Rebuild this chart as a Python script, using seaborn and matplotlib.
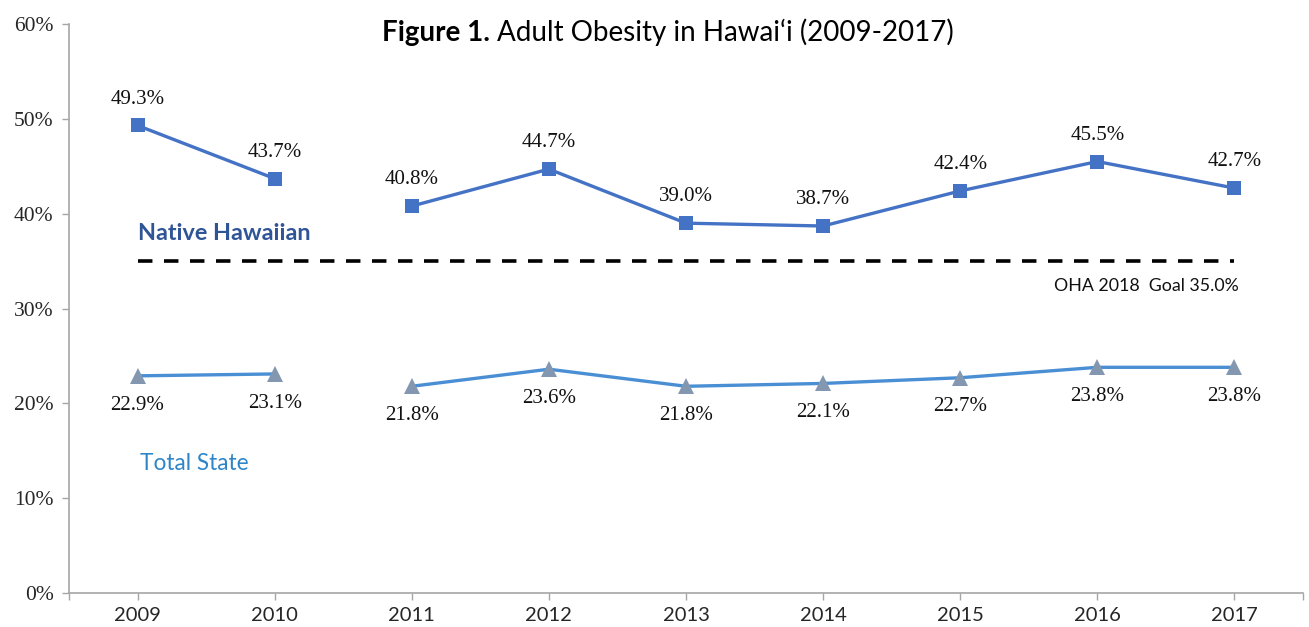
import matplotlib
matplotlib.use("Agg")
import matplotlib.pyplot as plt
import seaborn as sns
import pandas as pd
import numpy as np

years = ["2009", "2010", "2011", "2012", "2013", "2014", "2015", "2016", "2017"]
native_hawaiian = [49.3, 43.7, 40.8, 44.7, 39.0, 38.7, 42.4, 45.5, 42.7]
total_state = [22.9, 23.1, 21.8, 23.6, 21.8, 22.1, 22.7, 23.8, 23.8]
segment = [0, 0, 1, 1, 1, 1, 1, 1, 1]
goal = 35.0
y_ticks = [0, 10, 20, 30, 40, 50, 60]

sns.set_theme(style="white")
plt.rcParams['font.family'] = ['Lato', 'DejaVu Sans']

pos = list(range(len(years)))
df_nh = pd.DataFrame({"x": pos, "y": native_hawaiian, "seg": segment})
df_ts = pd.DataFrame({"x": pos, "y": total_state, "seg": segment})

fig = plt.figure(figsize=(13.09, 6.27), dpi=100)
ax = fig.add_axes([0.0527, 0.0542, 0.9427, 0.9075])

nh_color = "#4472C4"
ts_line = "#4A8FD4"
ts_marker = "#8497B0"

sns.lineplot(data=df_nh, x="x", y="y", units="seg", estimator=None, ax=ax,
             color=nh_color, linewidth=2.4, marker="s", markersize=10,
             markeredgewidth=0, markerfacecolor=nh_color, legend=False)
sns.lineplot(data=df_ts, x="x", y="y", units="seg", estimator=None, ax=ax,
             color=ts_line, linewidth=2.4, marker="^", markersize=12,
             markeredgewidth=0, markerfacecolor=ts_marker, legend=False)

ax.plot([0, 8], [goal, goal], color="black", linewidth=2.6, linestyle=(0, (4, 3.2)))
ax.text(8.03, goal - 2.6, "OHA 2018  Goal 35.0%", ha="right", va="center",
        fontsize=12.8, color="#111111")

serif = ["Liberation Serif", "DejaVu Serif"]
for i, v in enumerate(native_hawaiian):
    ax.annotate(f"{v:.1f}%", (i, v), xytext=(0, 19), textcoords="offset points",
                ha="center", va="center", fontsize=15, family=serif, color="#111111")
for i, v in enumerate(total_state):
    ax.annotate(f"{v:.1f}%", (i, v), xytext=(0, -21), textcoords="offset points",
                ha="center", va="center", fontsize=15, family=serif, color="#111111")

ax.text(0.0, 37.9, "Native Hawaiian", ha="left", va="center", fontsize=16.8,
        fontweight="bold", color="#2F5597")
ax.text(0.02, 13.7, "Total State", ha="left", va="center", fontsize=16.3,
        color="#2E86C8")

ax.set_xlim(-0.5, 8.5)
ax.set_ylim(0, 60)
ax.set_xticks(pos)
ax.set_xticks([-0.5, 8.5], minor=True)
ax.set_xticklabels(years, fontsize=14.5)
ax.set_yticks(y_ticks)
ax.set_yticklabels([f"{t}%" for t in y_ticks], fontsize=15.5, family=serif)
ax.set_xlabel("")
ax.set_ylabel("")
for s in ["top", "right"]:
    ax.spines[s].set_visible(False)
for s in ["left", "bottom"]:
    ax.spines[s].set_color("#A6A6A6")
    ax.spines[s].set_linewidth(1.2)
ax.tick_params(axis="both", which="both", length=5, color="#A6A6A6", width=1.0,
               direction="out", bottom=True, left=True)
ax.tick_params(axis="x", pad=5)
ax.tick_params(axis="y", pad=6)
ax.grid(False)

ax.text(2.57, 59.1, "Figure 1.", ha="right", va="center", fontsize=20,
        fontweight="bold", color="black")
ax.text(2.62, 59.1, "Adult Obesity in Hawai\u2018i (2009-2017)", ha="left",
        va="center", fontsize=20, color="black")

fig.savefig("out.png", dpi=100)
